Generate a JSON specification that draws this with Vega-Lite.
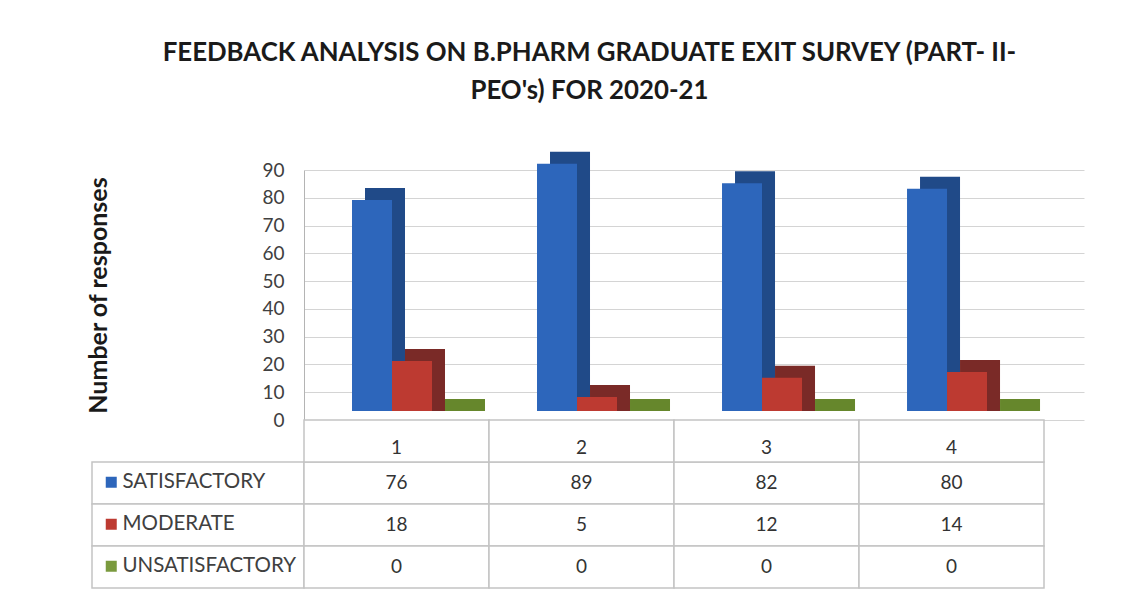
{
  "$schema": "https://vega.github.io/schema/vega-lite/v6.json",
  "padding": {"left": 86, "top": 39, "right": 5, "bottom": 5},
  "config": {"view": {"stroke": null}, "font": "Lato"},
  "title": {
    "text": ["FEEDBACK ANALYSIS ON B.PHARM GRADUATE EXIT SURVEY (PART- II-", "PEO's) FOR 2020-21"],
    "font": "Lato", "fontSize": 25.8, "fontWeight": "bold", "color": "#1a1a1a",
    "anchor": "middle", "lineHeight": 38, "offset": 47, "dx": 4
  },
  "columns": 2,
  "bounds": "flush",
  "spacing": 0,
  "datasets": {
    "t": [
      {"cat": "1", "series": "SATISFACTORY", "value": 76},
      {"cat": "2", "series": "SATISFACTORY", "value": 89},
      {"cat": "3", "series": "SATISFACTORY", "value": 82},
      {"cat": "4", "series": "SATISFACTORY", "value": 80},
      {"cat": "1", "series": "MODERATE", "value": 18},
      {"cat": "2", "series": "MODERATE", "value": 5},
      {"cat": "3", "series": "MODERATE", "value": 12},
      {"cat": "4", "series": "MODERATE", "value": 14},
      {"cat": "1", "series": "UNSATISFACTORY", "value": 0},
      {"cat": "2", "series": "UNSATISFACTORY", "value": 0},
      {"cat": "3", "series": "UNSATISFACTORY", "value": 0},
      {"cat": "4", "series": "UNSATISFACTORY", "value": 0}
    ]
  },
  "resolve": {"scale": {"color": "independent", "x": "independent", "y": "independent"}, "legend": {"color": "independent"}},
  "concat": [
    {
      "width": 212, "height": 250,
      "data": {"values": []},
      "mark": "point",
      "encoding": {}
    },
    {
      "width": 780, "height": 250,
      "data": {"name": "t"},
      "encoding": {
        "x": {"field": "cat", "type": "nominal", "sort": null, "scale": {"paddingInner": 0, "paddingOuter": 0.108, "align": 0}, "axis": null},
        "y": {
          "field": "value", "type": "quantitative",
          "scale": {"domain": [0, 90], "nice": false},
          "axis": {
            "values": [0, 10, 20, 30, 40, 50, 60, 70, 80, 90],
            "title": "Number of responses",
            "titleFont": "Lato", "titleFontSize": 25, "titleFontWeight": "bold", "titleColor": "#1a1a1a",
            "titlePadding": 150,
            "labelFont": "Lato", "labelFontSize": 19, "labelColor": "#404040", "labelPadding": 20,
            "ticks": false, "domainColor": "#b4b4b4", "gridColor": "#d4d4d4"
          }
        },
        "y2": {"datum": 0}
      },
      "layer": [
        {
          "mark": {"type": "bar", "yOffset": -21, "y2Offset": -9},
          "encoding": {
            "xOffset": {"field": "series", "type": "nominal", "sort": ["SATISFACTORY", "MODERATE", "UNSATISFACTORY"], "scale": {"paddingInner": 0, "paddingOuter": 0, "range": [61, 181]}},
            "color": {"field": "series", "type": "nominal", "scale": {"domain": ["SATISFACTORY", "MODERATE", "UNSATISFACTORY"], "range": ["#204a88", "#7a2a27", "#66872c"]}, "legend": null}
          }
        },
        {
          "mark": {"type": "bar", "yOffset": -9, "y2Offset": -9},
          "encoding": {
            "xOffset": {"field": "series", "type": "nominal", "sort": ["SATISFACTORY", "MODERATE", "UNSATISFACTORY"], "scale": {"paddingInner": 0, "paddingOuter": 0, "range": [48, 168]}},
            "color": {"field": "series", "type": "nominal", "scale": {"domain": ["SATISFACTORY", "MODERATE", "UNSATISFACTORY"], "range": ["#2d66bb", "#bd3a31", "#7a9a3e"]}, "legend": null}
          }
        }
      ],
      "resolve": {"scale": {"color": "independent", "xOffset": "independent"}}
    },
    {
      "width": 212, "height": 168,
      "data": {"name": "t"},
      "transform": [{"filter": "datum.cat == '1'"}],
      "encoding": {
        "y": {"field": "series", "type": "nominal", "scale": {"domain": ["hdr", "SATISFACTORY", "MODERATE", "UNSATISFACTORY"], "paddingInner": 0, "paddingOuter": 0}, "axis": null}
      },
      "layer": [
        {"mark": {"type": "rect", "fill": "white", "stroke": "#c4c4c4", "strokeWidth": 1.5}},
        {
          "mark": {"type": "square", "opacity": 0},
          "encoding": {
            "color": {
              "field": "series", "type": "nominal",
              "scale": {"domain": ["SATISFACTORY", "MODERATE", "UNSATISFACTORY"], "range": ["#2d66bb", "#bd3a31", "#7a9a3e"]},
              "legend": {
                "title": null, "orient": "none", "legendX": 9, "legendY": 52,
                "direction": "vertical", "symbolType": "square", "symbolSize": 121, "symbolOpacity": 1,
                "labelFont": "Lato", "labelFontSize": 20.5, "labelColor": "#404040", "labelLimit": 0,
                "rowPadding": 21, "padding": 0, "labelOffset": 1
              }
            }
          }
        }
      ]
    },
    {
      "width": 740, "height": 168,
      "data": {"name": "t"},
      "encoding": {
        "x": {"field": "cat", "type": "nominal", "sort": null, "scale": {"paddingInner": 0, "paddingOuter": 0}, "axis": null},
        "y": {"field": "series", "type": "nominal", "scale": {"domain": ["hdr", "SATISFACTORY", "MODERATE", "UNSATISFACTORY"], "paddingInner": 0, "paddingOuter": 0}, "axis": null}
      },
      "layer": [
        {
          "mark": {"type": "rect", "fill": "white", "stroke": "#c4c4c4", "strokeWidth": 1.5}
        },
        {
          "transform": [{"aggregate": [{"op": "count", "as": "n"}], "groupby": ["cat"]}],
          "mark": {"type": "rect", "fill": "white", "stroke": "#c4c4c4", "strokeWidth": 1.5},
          "encoding": {"y": {"datum": "hdr"}}
        },
        {
          "mark": {"type": "text", "font": "Lato", "fontSize": 19, "color": "#333333"},
          "encoding": {"text": {"field": "value", "type": "quantitative"}}
        },
        {
          "transform": [{"aggregate": [{"op": "count", "as": "n"}], "groupby": ["cat"]}],
          "mark": {"type": "text", "font": "Lato", "fontSize": 19, "color": "#333333", "yOffset": 7},
          "encoding": {"y": {"datum": "hdr"}, "text": {"field": "cat", "type": "nominal"}}
        }
      ]
    }
  ]
}
